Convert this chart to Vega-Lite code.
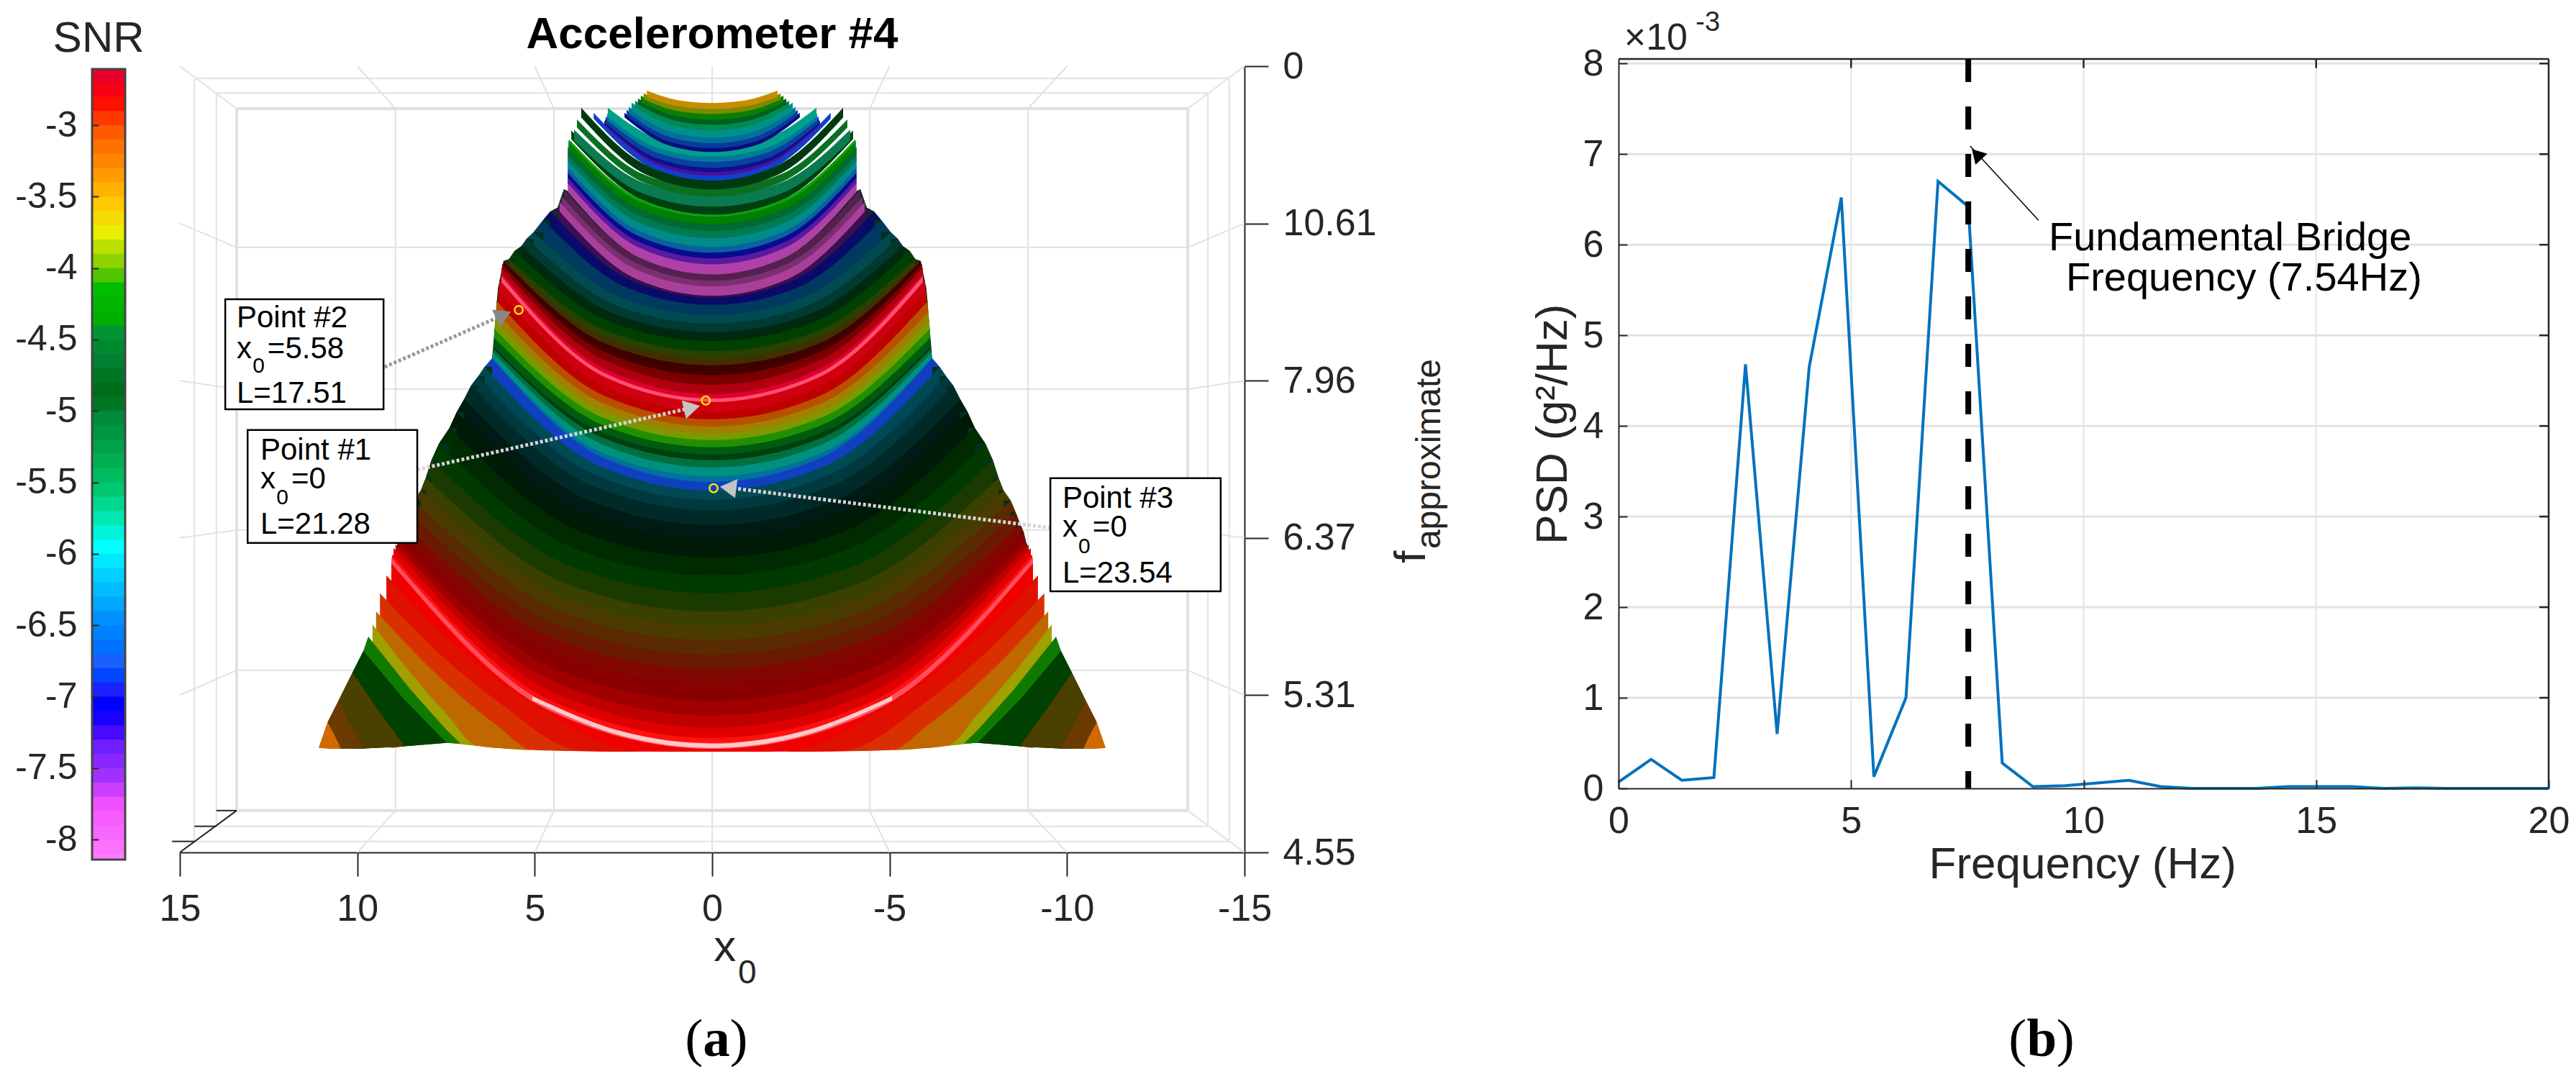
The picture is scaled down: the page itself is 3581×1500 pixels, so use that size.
{"$schema":"https://vega.github.io/schema/vega-lite/v6.json","background":"white","padding":{"left":20,"top":12,"right":0,"bottom":0},"bounds":"flush","spacing":76,"config":{"view":{"stroke":null},"text":{"font":"Liberation Sans"},"axis":{"labelFont":"Liberation Sans","titleFont":"Liberation Sans"}},"hconcat":[
{"width":46,"height":1113,"encoding":{"x":{"field":"x","type":"quantitative","scale":{"domain":[0,1]},"axis":null},"y":{"field":"s","type":"quantitative","scale":{"domain":[-2.607,-8.14],"range":[14,1113]},"axis":{"title":null,"values":[-3,-3.5,-4,-4.5,-5,-5.5,-6,-6.5,-7,-7.5,-8],"labelExpr":"''+datum.value","labelFontSize":50,"labelColor":"#262626","tickSize":-9,"tickColor":"#262626","tickWidth":2,"labelPadding":30,"domain":false,"grid":false,"zindex":1}}},"layer":[
{"data":{"values":[{"x":0,"x2":1,"s":-2.607,"e":-2.705},{"x":0,"x2":1,"s":-2.7,"e":-2.805},{"x":0,"x2":1,"s":-2.8,"e":-2.905},{"x":0,"x2":1,"s":-2.9,"e":-3.005},{"x":0,"x2":1,"s":-3,"e":-3.105},{"x":0,"x2":1,"s":-3.1,"e":-3.205},{"x":0,"x2":1,"s":-3.2,"e":-3.305},{"x":0,"x2":1,"s":-3.3,"e":-3.405},{"x":0,"x2":1,"s":-3.4,"e":-3.505},{"x":0,"x2":1,"s":-3.5,"e":-3.605},{"x":0,"x2":1,"s":-3.6,"e":-3.705},{"x":0,"x2":1,"s":-3.7,"e":-3.805},{"x":0,"x2":1,"s":-3.8,"e":-3.905},{"x":0,"x2":1,"s":-3.9,"e":-4.005},{"x":0,"x2":1,"s":-4,"e":-4.105},{"x":0,"x2":1,"s":-4.1,"e":-4.205},{"x":0,"x2":1,"s":-4.2,"e":-4.305},{"x":0,"x2":1,"s":-4.3,"e":-4.405},{"x":0,"x2":1,"s":-4.4,"e":-4.505},{"x":0,"x2":1,"s":-4.5,"e":-4.605},{"x":0,"x2":1,"s":-4.6,"e":-4.705},{"x":0,"x2":1,"s":-4.7,"e":-4.805},{"x":0,"x2":1,"s":-4.8,"e":-4.905},{"x":0,"x2":1,"s":-4.9,"e":-5.005},{"x":0,"x2":1,"s":-5,"e":-5.105},{"x":0,"x2":1,"s":-5.1,"e":-5.205},{"x":0,"x2":1,"s":-5.2,"e":-5.305},{"x":0,"x2":1,"s":-5.3,"e":-5.405},{"x":0,"x2":1,"s":-5.4,"e":-5.505},{"x":0,"x2":1,"s":-5.5,"e":-5.605},{"x":0,"x2":1,"s":-5.6,"e":-5.705},{"x":0,"x2":1,"s":-5.7,"e":-5.805},{"x":0,"x2":1,"s":-5.8,"e":-5.905},{"x":0,"x2":1,"s":-5.9,"e":-6.005},{"x":0,"x2":1,"s":-6,"e":-6.105},{"x":0,"x2":1,"s":-6.1,"e":-6.205},{"x":0,"x2":1,"s":-6.2,"e":-6.305},{"x":0,"x2":1,"s":-6.3,"e":-6.405},{"x":0,"x2":1,"s":-6.4,"e":-6.505},{"x":0,"x2":1,"s":-6.5,"e":-6.605},{"x":0,"x2":1,"s":-6.6,"e":-6.705},{"x":0,"x2":1,"s":-6.7,"e":-6.805},{"x":0,"x2":1,"s":-6.8,"e":-6.905},{"x":0,"x2":1,"s":-6.9,"e":-7.005},{"x":0,"x2":1,"s":-7,"e":-7.105},{"x":0,"x2":1,"s":-7.1,"e":-7.205},{"x":0,"x2":1,"s":-7.2,"e":-7.305},{"x":0,"x2":1,"s":-7.3,"e":-7.405},{"x":0,"x2":1,"s":-7.4,"e":-7.505},{"x":0,"x2":1,"s":-7.5,"e":-7.605},{"x":0,"x2":1,"s":-7.6,"e":-7.705},{"x":0,"x2":1,"s":-7.7,"e":-7.805},{"x":0,"x2":1,"s":-7.8,"e":-7.905},{"x":0,"x2":1,"s":-7.9,"e":-8.005},{"x":0,"x2":1,"s":-8,"e":-8.105},{"x":0,"x2":1,"s":-8.1,"e":-8.14}]},"mark":"rect","encoding":{"x2":{"field":"x2"},"y2":{"field":"e"},"color":{"field":"s","type":"quantitative","legend":null,"scale":{"domain":[-8.14,-7.7,-7.5,-7.3,-7.15,-7,-6.9,-6.7,-6.4,-6.1,-5.9,-5.7,-5.5,-5.3,-5,-4.83,-4.6,-4.35,-4.3,-4.05,-3.98,-3.85,-3.7,-3.5,-3.25,-3,-2.85,-2.75,-2.607],"range":["#ff80ff","#f050ff","#a030ff","#7020ff","#2000ff","#0000ff","#1a20ff","#1a60ff","#0090ff","#00d0ff","#00ffff","#00e8b0","#00c870","#00b050","#008a3a","#006a14","#008030","#009a30","#00b000","#00c000","#60c800","#a8d800","#e8f000","#ffc800","#ff9000","#ff5a00","#ff1a00","#ff0000","#e8002a"]}}}},
{"data":{"values":[{"x":0,"x2":1,"s":-2.607,"e":-8.14}]},"mark":{"type":"rect","fill":null,"stroke":"#444444","strokeWidth":3},"encoding":{"x2":{"field":"x2"},"y2":{"field":"e"}}},
{"data":{"values":[{"x":0.2,"s":-2.486,"t":"SNR"}]},"mark":{"type":"text","fontSize":60,"align":"center","baseline":"alphabetic","color":"#262626"},"encoding":{"text":{"field":"t"}}}
]},
{"width":1480,"height":1113,"encoding":{"x":{"field":"x","type":"quantitative","scale":{"domain":[15,-15],"nice":false,"zero":false},"axis":{"title":null,"orient":"bottom","offset":-10,"values":[15,10,5,0,-5,-10,-15],"labelExpr":"''+datum.value","labelFontSize":52,"labelColor":"#262626","tickSize":33,"tickColor":"#262626","tickWidth":2,"domainColor":"#262626","domainWidth":2,"labelPadding":20,"grid":false,"labelFlush":false}},"y":{"field":"y","type":"quantitative","scale":{"domain":[10,35],"range":[10,1103],"nice":false,"zero":false},"axis":{"title":null,"orient":"right","values":[10,15,20,25,30,35],"labelExpr":"datum.value==10?'0':datum.value==15?'10.61':datum.value==20?'7.96':datum.value==25?'6.37':datum.value==30?'5.31':'4.55'","labelFontSize":52,"labelColor":"#262626","tickSize":33,"tickColor":"#262626","tickWidth":2,"domainColor":"#262626","domainWidth":2,"labelPadding":20,"grid":false}}},"layer":[
{"data":{"values":[{"x":14.59,"y":10.39,"x2":-14.57,"y2":10.39},{"x":14.59,"y":34.65,"x2":-14.57,"y2":34.65},{"x":14.59,"y":10.39,"x2":14.59,"y2":34.65},{"x":-14.57,"y":10.39,"x2":-14.57,"y2":34.65},{"x":13.97,"y":10.85,"x2":-13.97,"y2":10.85},{"x":13.97,"y":34.17,"x2":-13.97,"y2":34.17},{"x":13.97,"y":10.85,"x2":13.97,"y2":34.17},{"x":-13.97,"y":10.85,"x2":-13.97,"y2":34.17},{"x":8.92,"y":11.35,"x2":8.92,"y2":33.67},{"x":4.46,"y":11.35,"x2":4.46,"y2":33.67},{"x":0,"y":11.35,"x2":0,"y2":33.67},{"x":-4.44,"y":11.35,"x2":-4.44,"y2":33.67},{"x":-8.9,"y":11.35,"x2":-8.9,"y2":33.67},{"x":13.4,"y":15.76,"x2":-13.4,"y2":15.76},{"x":13.4,"y":20.27,"x2":-13.4,"y2":20.27},{"x":13.4,"y":24.75,"x2":-13.4,"y2":24.75},{"x":13.4,"y":29.21,"x2":-13.4,"y2":29.21},{"x":15,"y":10,"x2":13.4,"y2":11.35},{"x":-15,"y":10,"x2":-13.4,"y2":11.35},{"x":-15,"y":35,"x2":-13.4,"y2":33.67},{"x":10,"y":10,"x2":8.92,"y2":11.35},{"x":5,"y":10,"x2":4.46,"y2":11.35},{"x":0,"y":10,"x2":0,"y2":11.35},{"x":-5,"y":10,"x2":-4.44,"y2":11.35},{"x":-10,"y":10,"x2":-8.9,"y2":11.35},{"x":10,"y":35,"x2":8.92,"y2":33.67},{"x":5,"y":35,"x2":4.46,"y2":33.67},{"x":0,"y":35,"x2":0,"y2":33.67},{"x":-5,"y":35,"x2":-4.44,"y2":33.67},{"x":-10,"y":35,"x2":-8.9,"y2":33.67},{"x":15,"y":15,"x2":13.4,"y2":15.76},{"x":15,"y":20,"x2":13.4,"y2":20.27},{"x":15,"y":25,"x2":13.4,"y2":24.75},{"x":15,"y":30,"x2":13.4,"y2":29.21},{"x":-15,"y":15,"x2":-13.4,"y2":15.76},{"x":-15,"y":20,"x2":-13.4,"y2":20.27},{"x":-15,"y":25,"x2":-13.4,"y2":24.75},{"x":-15,"y":30,"x2":-13.4,"y2":29.21}]},"mark":{"type":"rule","stroke":"#e2e2e2","strokeWidth":2},"encoding":{"x2":{"field":"x2"},"y2":{"field":"y2"}}},
{"data":{"values":[{"x":13.4,"y":11.35,"x2":-13.4,"y2":11.35},{"x":13.4,"y":33.67,"x2":-13.4,"y2":33.67},{"x":13.4,"y":11.35,"x2":13.4,"y2":33.67},{"x":-13.4,"y":11.35,"x2":-13.4,"y2":33.67}]},"mark":{"type":"rule","stroke":"#e0e0e0","strokeWidth":4},"encoding":{"x2":{"field":"x2"},"y2":{"field":"y2"}}},
{"data":{"values":[{"x":15,"y":35,"x2":13.4,"y2":33.67},{"x":15.22,"y":34.65,"x2":14.59,"y2":34.65},{"x":14.59,"y":34.17,"x2":13.97,"y2":34.17},{"x":13.97,"y":33.67,"x2":13.4,"y2":33.67}]},"mark":{"type":"rule","stroke":"#262626","strokeWidth":2},"encoding":{"x2":{"field":"x2"},"y2":{"field":"y2"}}},
{"data":{"values":[{"x":-9.04,"y":25.71,"z":31},{"x":-8.84,"y":25.11,"z":31},{"x":-8.78,"y":24.82,"z":31},{"x":-8.68,"y":24.55,"z":31},{"x":-8.55,"y":24.18,"z":31},{"x":-8.41,"y":23.81,"z":31},{"x":-8.21,"y":23.49,"z":31},{"x":-8.07,"y":23.09,"z":31},{"x":-7.91,"y":22.53,"z":31},{"x":-7.7,"y":22,"z":31},{"x":-7.4,"y":21.5,"z":31},{"x":-7.2,"y":21,"z":31},{"x":-6.99,"y":20.59,"z":31},{"x":-6.79,"y":20.15,"z":31},{"x":-6.59,"y":19.86,"z":31},{"x":-6.41,"y":19.56,"z":31},{"x":-6.2,"y":19.29,"z":31},{"x":-6.04,"y":17.09,"z":31},{"x":-5.88,"y":16.19,"z":31},{"x":-5.72,"y":16.13,"z":31},{"x":-5.57,"y":15.88,"z":31},{"x":-5.37,"y":15.72,"z":31},{"x":-5.23,"y":15.49,"z":31},{"x":-5.03,"y":15.28,"z":31},{"x":-4.76,"y":14.89,"z":31},{"x":-4.56,"y":14.62,"z":31},{"x":-4.36,"y":14.5,"z":31},{"x":-4.18,"y":13.91,"z":31},{"x":0,"y":16,"z":31},{"x":4.18,"y":13.91,"z":31},{"x":4.36,"y":14.5,"z":31},{"x":4.56,"y":14.62,"z":31},{"x":4.76,"y":14.89,"z":31},{"x":5.03,"y":15.28,"z":31},{"x":5.23,"y":15.49,"z":31},{"x":5.37,"y":15.72,"z":31},{"x":5.57,"y":15.88,"z":31},{"x":5.72,"y":16.13,"z":31},{"x":5.88,"y":16.19,"z":31},{"x":6.04,"y":17.09,"z":31},{"x":6.2,"y":19.29,"z":31},{"x":6.41,"y":19.56,"z":31},{"x":6.59,"y":19.86,"z":31},{"x":6.79,"y":20.15,"z":31},{"x":6.99,"y":20.59,"z":31},{"x":7.2,"y":21,"z":31},{"x":7.4,"y":21.5,"z":31},{"x":7.7,"y":22,"z":31},{"x":7.91,"y":22.53,"z":31},{"x":8.07,"y":23.09,"z":31},{"x":8.21,"y":23.49,"z":31},{"x":8.41,"y":23.81,"z":31},{"x":8.55,"y":24.18,"z":31},{"x":8.68,"y":24.55,"z":31},{"x":8.78,"y":24.82,"z":31},{"x":8.84,"y":25.11,"z":31},{"x":9.04,"y":25.71,"z":31}]},"mark":{"type":"area","interpolate":"linear","orient":"vertical","color":"#03301c"},"encoding":{"y2":{"field":"z"}}},
{"data":{"values":[
{"b":56,"s":"L","x":-4.56,"y":14.62,"z":14.62},{"b":56,"s":"L","x":-4.36,"y":14.5,"z":14.62},{"b":56,"s":"R","x":4.36,"y":14.5,"z":14.62},{"b":56,"s":"R","x":4.56,"y":14.62,"z":14.62},
{"b":55,"s":"L","x":-4.76,"y":14.89,"z":14.89},{"b":55,"s":"L","x":-4.56,"y":14.62,"z":14.89},{"b":55,"s":"R","x":4.56,"y":14.62,"z":14.89},{"b":55,"s":"R","x":4.76,"y":14.89,"z":14.89},
{"b":54,"s":"L","x":-5.03,"y":15.28,"z":15.28},{"b":54,"s":"L","x":-4.76,"y":14.89,"z":15.28},{"b":54,"s":"R","x":4.76,"y":14.89,"z":15.28},{"b":54,"s":"R","x":5.03,"y":15.28,"z":15.28},
{"b":53,"s":"L","x":-5.23,"y":15.49,"z":15.49},{"b":53,"s":"L","x":-5.03,"y":15.28,"z":15.49},{"b":53,"s":"R","x":5.03,"y":15.28,"z":15.49},{"b":53,"s":"R","x":5.23,"y":15.49,"z":15.49},
{"b":52,"s":"L","x":-5.37,"y":15.72,"z":15.72},{"b":52,"s":"L","x":-5.23,"y":15.49,"z":15.72},{"b":52,"s":"R","x":5.23,"y":15.49,"z":15.72},{"b":52,"s":"R","x":5.37,"y":15.72,"z":15.72},
{"b":51,"s":"L","x":-5.57,"y":15.88,"z":15.88},{"b":51,"s":"L","x":-5.37,"y":15.72,"z":15.88},{"b":51,"s":"R","x":5.37,"y":15.72,"z":15.88},{"b":51,"s":"R","x":5.57,"y":15.88,"z":15.88},
{"b":50,"s":"L","x":-5.72,"y":16.13,"z":16.13},{"b":50,"s":"L","x":-5.57,"y":15.88,"z":16.13},{"b":50,"s":"R","x":5.57,"y":15.88,"z":16.13},{"b":50,"s":"R","x":5.72,"y":16.13,"z":16.13},
{"b":49,"s":"L","x":-5.82,"y":16.2,"z":16.2},{"b":49,"s":"L","x":-5.72,"y":16.13,"z":16.2},{"b":49,"s":"R","x":5.72,"y":16.13,"z":16.2},{"b":49,"s":"R","x":5.82,"y":16.2,"z":16.2},
{"b":31,"s":"L","x":-6.41,"y":19.56,"z":19.56},{"b":31,"s":"L","x":-6.2,"y":19.29,"z":19.56},{"b":31,"s":"R","x":6.2,"y":19.29,"z":19.56},{"b":31,"s":"R","x":6.41,"y":19.56,"z":19.56},
{"b":30,"s":"L","x":-6.59,"y":19.86,"z":19.86},{"b":30,"s":"L","x":-6.41,"y":19.56,"z":19.86},{"b":30,"s":"R","x":6.41,"y":19.56,"z":19.86},{"b":30,"s":"R","x":6.59,"y":19.86,"z":19.86},
{"b":29,"s":"L","x":-6.79,"y":20.15,"z":20.15},{"b":29,"s":"L","x":-6.59,"y":19.86,"z":20.15},{"b":29,"s":"R","x":6.59,"y":19.86,"z":20.15},{"b":29,"s":"R","x":6.79,"y":20.15,"z":20.15},
{"b":28,"s":"L","x":-6.99,"y":20.59,"z":20.59},{"b":28,"s":"L","x":-6.79,"y":20.15,"z":20.59},{"b":28,"s":"R","x":6.79,"y":20.15,"z":20.59},{"b":28,"s":"R","x":6.99,"y":20.59,"z":20.59},
{"b":27,"s":"L","x":-7.2,"y":21,"z":21},{"b":27,"s":"L","x":-6.99,"y":20.59,"z":21},{"b":27,"s":"R","x":6.99,"y":20.59,"z":21},{"b":27,"s":"R","x":7.2,"y":21,"z":21},
{"b":26,"s":"L","x":-7.4,"y":21.5,"z":21.5},{"b":26,"s":"L","x":-7.2,"y":21,"z":21.5},{"b":26,"s":"R","x":7.2,"y":21,"z":21.5},{"b":26,"s":"R","x":7.4,"y":21.5,"z":21.5},
{"b":25,"s":"L","x":-7.7,"y":22,"z":22},{"b":25,"s":"L","x":-7.4,"y":21.5,"z":22},{"b":25,"s":"R","x":7.4,"y":21.5,"z":22},{"b":25,"s":"R","x":7.7,"y":22,"z":22},
{"b":24,"s":"L","x":-7.91,"y":22.53,"z":22.53},{"b":24,"s":"L","x":-7.7,"y":22,"z":22.53},{"b":24,"s":"R","x":7.7,"y":22,"z":22.53},{"b":24,"s":"R","x":7.91,"y":22.53,"z":22.53},
{"b":23,"s":"L","x":-8.07,"y":23.09,"z":23.09},{"b":23,"s":"L","x":-7.91,"y":22.53,"z":23.09},{"b":23,"s":"R","x":7.91,"y":22.53,"z":23.09},{"b":23,"s":"R","x":8.07,"y":23.09,"z":23.09},
{"b":22,"s":"L","x":-8.21,"y":23.49,"z":23.49},{"b":22,"s":"L","x":-8.07,"y":23.09,"z":23.49},{"b":22,"s":"R","x":8.07,"y":23.09,"z":23.49},{"b":22,"s":"R","x":8.21,"y":23.49,"z":23.49},
{"b":21,"s":"L","x":-8.41,"y":23.81,"z":23.81},{"b":21,"s":"L","x":-8.21,"y":23.49,"z":23.81},{"b":21,"s":"R","x":8.21,"y":23.49,"z":23.81},{"b":21,"s":"R","x":8.41,"y":23.81,"z":23.81},
{"b":20,"s":"L","x":-8.55,"y":24.18,"z":24.18},{"b":20,"s":"L","x":-8.41,"y":23.81,"z":24.18},{"b":20,"s":"R","x":8.41,"y":23.81,"z":24.18},{"b":20,"s":"R","x":8.55,"y":24.18,"z":24.18},
{"b":19,"s":"L","x":-8.68,"y":24.55,"z":24.55},{"b":19,"s":"L","x":-8.55,"y":24.18,"z":24.55},{"b":19,"s":"R","x":8.55,"y":24.18,"z":24.55},{"b":19,"s":"R","x":8.68,"y":24.55,"z":24.55},
{"b":18,"s":"L","x":-8.78,"y":24.82,"z":24.82},{"b":18,"s":"L","x":-8.68,"y":24.55,"z":24.82},{"b":18,"s":"R","x":8.68,"y":24.55,"z":24.82},{"b":18,"s":"R","x":8.78,"y":24.82,"z":24.82},
{"b":17,"s":"L","x":-8.84,"y":25.11,"z":25.11},{"b":17,"s":"L","x":-8.78,"y":24.82,"z":25.11},{"b":17,"s":"R","x":8.78,"y":24.82,"z":25.11},{"b":17,"s":"R","x":8.84,"y":25.11,"z":25.11}
]},"mark":{"type":"area","interpolate":"linear","orient":"vertical"},"encoding":{"y2":{"field":"z"},"detail":{"field":"s"},"color":{"field":"b","type":"ordinal","legend":null,"scale":{"range":["#f00000","#e01000","#d83000","#c06800","#a0a000","#107a00","#004000","#4a4000","#6a3a00","#d06a00","#ff5060","#ffc8c8","#ff1010","#e00000","#c00000","#a00000","#8a0000","#800800","#6a1a00","#5a2a00","#4a3c00","#3a4000","#1a3a00","#003a00","#002a00","#001a08","#001a14","#002a28","#003a40","#004a55","#1040c0","#0070a0","#009080","#007040","#004010","#005a10","#209000","#7a9a00","#a08000","#b85000","#c00000","#d00010","#ff5070","#e00030","#b00010","#7a0000","#400000","#403000","#2a4000","#004000","#002a10","#003a30","#004a50","#003a60","#0a0a6a","#3a1050","#aa3f9a","#7a2f72","#55204f","#b040a8","#5a1aa0","#0a0a90","#0a60a0","#008a8a","#007a50","#006a30","#008000","#10a010","#004010","#0a7a50","#0a7020","#003a10","#1040c8","#4a10a0","#10108a","#0a40a0","#007a9a","#00a08a","#0a0a80","#0a3a9a","#00709a","#00908a","#008a50","#006020","#0a8000","#7a8a00","#c88c00"]}}}},
{"data":{"values":[
{"b":56,"x":-4.36,"y":14.5,"z":14.69},{"b":56,"x":-2.18,"y":16.66,"z":16.85},{"b":56,"x":0,"y":17.2,"z":17.39},{"b":56,"x":2.18,"y":16.66,"z":16.85},{"b":56,"x":4.36,"y":14.5,"z":14.69},
{"b":55,"x":-4.56,"y":14.62,"z":14.88},{"b":55,"x":-2.28,"y":16.81,"z":17.07},{"b":55,"x":0,"y":17.36,"z":17.62},{"b":55,"x":2.28,"y":16.81,"z":17.07},{"b":55,"x":4.56,"y":14.62,"z":14.88},
{"b":54,"x":-4.76,"y":14.89,"z":15.24},{"b":54,"x":-2.38,"y":17.05,"z":17.4},{"b":54,"x":0,"y":17.59,"z":17.94},{"b":54,"x":2.38,"y":17.05,"z":17.4},{"b":54,"x":4.76,"y":14.89,"z":15.24},
{"b":53,"x":-5.03,"y":15.28,"z":15.59},{"b":53,"x":-2.51,"y":17.38,"z":17.69},{"b":53,"x":0,"y":17.91,"z":18.22},{"b":53,"x":2.51,"y":17.38,"z":17.69},{"b":53,"x":5.03,"y":15.28,"z":15.59},
{"b":52,"x":-5.23,"y":15.49,"z":15.79},{"b":52,"x":-2.61,"y":17.65,"z":17.95},{"b":52,"x":0,"y":18.19,"z":18.49},{"b":52,"x":2.61,"y":17.65,"z":17.95},{"b":52,"x":5.23,"y":15.49,"z":15.79},
{"b":51,"x":-5.37,"y":15.72,"z":16.03},{"b":51,"x":-2.69,"y":17.91,"z":18.22},{"b":51,"x":0,"y":18.46,"z":18.77},{"b":51,"x":2.69,"y":17.91,"z":18.22},{"b":51,"x":5.37,"y":15.72,"z":16.03},
{"b":50,"x":-5.57,"y":15.88,"z":16.23},{"b":50,"x":-2.79,"y":18.17,"z":18.52},{"b":50,"x":0,"y":18.74,"z":19.09},{"b":50,"x":2.79,"y":18.17,"z":18.52},{"b":50,"x":5.57,"y":15.88,"z":16.23},
{"b":49,"x":-5.72,"y":16.13,"z":16.39},{"b":49,"x":-2.86,"y":18.47,"z":18.73},{"b":49,"x":0,"y":19.06,"z":19.32},{"b":49,"x":2.86,"y":18.47,"z":18.73},{"b":49,"x":5.72,"y":16.13,"z":16.39},
{"b":48,"x":-5.82,"y":16.2,"z":16.45},{"b":48,"x":-2.91,"y":18.67,"z":18.92},{"b":48,"x":0,"y":19.29,"z":19.54},{"b":48,"x":2.91,"y":18.67,"z":18.92},{"b":48,"x":5.82,"y":16.2,"z":16.45},
{"b":47,"x":-5.88,"y":16.19,"z":16.54},{"b":47,"x":-2.94,"y":18.85,"z":19.2},{"b":47,"x":0,"y":19.51,"z":19.86},{"b":47,"x":2.94,"y":18.85,"z":19.2},{"b":47,"x":5.88,"y":16.19,"z":16.54},
{"b":46,"x":-5.92,"y":16.29,"z":16.62},{"b":46,"x":-2.96,"y":19.12,"z":19.45},{"b":46,"x":0,"y":19.83,"z":20.16},{"b":46,"x":2.96,"y":19.12,"z":19.45},{"b":46,"x":5.92,"y":16.29,"z":16.62},
{"b":45,"x":-5.94,"y":16.4,"z":16.73},{"b":45,"x":-2.97,"y":19.38,"z":19.71},{"b":45,"x":0,"y":20.13,"z":20.46},{"b":45,"x":2.97,"y":19.38,"z":19.71},{"b":45,"x":5.94,"y":16.4,"z":16.73},
{"b":44,"x":-5.94,"y":16.59,"z":16.76},{"b":44,"x":-2.97,"y":19.66,"z":19.83},{"b":44,"x":0,"y":20.43,"z":20.6},{"b":44,"x":2.97,"y":19.66,"z":19.83},{"b":44,"x":5.94,"y":16.59,"z":16.76},
{"b":43,"x":-5.94,"y":16.68,"z":16.82},{"b":43,"x":-2.97,"y":19.79,"z":19.93},{"b":43,"x":0,"y":20.57,"z":20.71},{"b":43,"x":2.97,"y":19.79,"z":19.93},{"b":43,"x":5.94,"y":16.68,"z":16.82},
{"b":42,"x":-6,"y":16.79,"z":17.12},{"b":42,"x":-3,"y":19.9,"z":20.23},{"b":42,"x":0,"y":20.68,"z":21.01},{"b":42,"x":3,"y":19.9,"z":20.23},{"b":42,"x":6,"y":16.79,"z":17.12},
{"b":41,"x":-6.04,"y":17.09,"z":17.37},{"b":41,"x":-3.02,"y":20.2,"z":20.48},{"b":41,"x":0,"y":20.98,"z":21.26},{"b":41,"x":3.02,"y":20.2,"z":20.48},{"b":41,"x":6.04,"y":17.09,"z":17.37},
{"b":40,"x":-6.08,"y":17.46,"z":17.72},{"b":40,"x":-3.04,"y":20.48,"z":20.74},{"b":40,"x":0,"y":21.23,"z":21.49},{"b":40,"x":3.04,"y":20.48,"z":20.74},{"b":40,"x":6.08,"y":17.46,"z":17.72},
{"b":39,"x":-6.1,"y":17.8,"z":18.06},{"b":39,"x":-3.05,"y":20.73,"z":20.99},{"b":39,"x":0,"y":21.46,"z":21.72},{"b":39,"x":3.05,"y":20.73,"z":20.99},{"b":39,"x":6.1,"y":17.8,"z":18.06},
{"b":38,"x":-6.12,"y":18.08,"z":18.31},{"b":38,"x":-3.06,"y":20.97,"z":21.2},{"b":38,"x":0,"y":21.69,"z":21.92},{"b":38,"x":3.06,"y":20.97,"z":21.2},{"b":38,"x":6.12,"y":18.08,"z":18.31},
{"b":37,"x":-6.14,"y":18.35,"z":18.61},{"b":37,"x":-3.07,"y":21.18,"z":21.44},{"b":37,"x":0,"y":21.89,"z":22.15},{"b":37,"x":3.07,"y":21.18,"z":21.44},{"b":37,"x":6.14,"y":18.35,"z":18.61},
{"b":36,"x":-6.14,"y":18.64,"z":18.9},{"b":36,"x":-3.07,"y":21.42,"z":21.68},{"b":36,"x":0,"y":22.12,"z":22.38},{"b":36,"x":3.07,"y":21.42,"z":21.68},{"b":36,"x":6.14,"y":18.64,"z":18.9},
{"b":35,"x":-6.16,"y":18.92,"z":19.13},{"b":35,"x":-3.08,"y":21.66,"z":21.87},{"b":35,"x":0,"y":22.35,"z":22.56},{"b":35,"x":3.08,"y":21.66,"z":21.87},{"b":35,"x":6.16,"y":18.92,"z":19.13},
{"b":34,"x":-6.16,"y":18.99,"z":19.25},{"b":34,"x":-3.08,"y":21.82,"z":22.08},{"b":34,"x":0,"y":22.53,"z":22.79},{"b":34,"x":3.08,"y":21.82,"z":22.08},{"b":34,"x":6.16,"y":18.99,"z":19.25},
{"b":33,"x":-6.18,"y":19.1,"z":19.41},{"b":33,"x":-3.09,"y":22.03,"z":22.34},{"b":33,"x":0,"y":22.76,"z":23.07},{"b":33,"x":3.09,"y":22.03,"z":22.34},{"b":33,"x":6.18,"y":19.1,"z":19.41},
{"b":32,"x":-6.2,"y":19.27,"z":19.48},{"b":32,"x":-3.1,"y":22.29,"z":22.5},{"b":32,"x":0,"y":23.04,"z":23.25},{"b":32,"x":3.1,"y":22.29,"z":22.5},{"b":32,"x":6.2,"y":19.27,"z":19.48},
{"b":31,"x":-6.2,"y":19.29,"z":19.59},{"b":31,"x":-3.1,"y":22.43,"z":22.73},{"b":31,"x":0,"y":23.22,"z":23.52},{"b":31,"x":3.1,"y":22.43,"z":22.73},{"b":31,"x":6.2,"y":19.29,"z":19.59},
{"b":30,"x":-6.41,"y":19.56,"z":19.89},{"b":30,"x":-3.2,"y":22.7,"z":23.03},{"b":30,"x":0,"y":23.49,"z":23.82},{"b":30,"x":3.2,"y":22.7,"z":23.03},{"b":30,"x":6.41,"y":19.56,"z":19.89},
{"b":29,"x":-6.59,"y":19.86,"z":20.23},{"b":29,"x":-3.29,"y":23,"z":23.37},{"b":29,"x":0,"y":23.79,"z":24.16},{"b":29,"x":3.29,"y":23,"z":23.37},{"b":29,"x":6.59,"y":19.86,"z":20.23},
{"b":28,"x":-6.79,"y":20.15,"z":20.64},{"b":28,"x":-3.4,"y":23.33,"z":23.82},{"b":28,"x":0,"y":24.13,"z":24.62},{"b":28,"x":3.4,"y":23.33,"z":23.82},{"b":28,"x":6.79,"y":20.15,"z":20.64},
{"b":27,"x":-6.99,"y":20.59,"z":21.08},{"b":27,"x":-3.5,"y":23.79,"z":24.28},{"b":27,"x":0,"y":24.59,"z":25.08},{"b":27,"x":3.5,"y":23.79,"z":24.28},{"b":27,"x":6.99,"y":20.59,"z":21.08},
{"b":26,"x":-7.2,"y":21,"z":21.6},{"b":26,"x":-3.6,"y":24.24,"z":24.84},{"b":26,"x":0,"y":25.05,"z":25.65},{"b":26,"x":3.6,"y":24.24,"z":24.84},{"b":26,"x":7.2,"y":21,"z":21.6},
{"b":25,"x":-7.4,"y":21.5,"z":22.1},{"b":25,"x":-3.7,"y":24.8,"z":25.4},{"b":25,"x":0,"y":25.62,"z":26.22},{"b":25,"x":3.7,"y":24.8,"z":25.4},{"b":25,"x":7.4,"y":21.5,"z":22.1},
{"b":24,"x":-7.7,"y":22,"z":22.6},{"b":24,"x":-3.85,"y":25.35,"z":25.95},{"b":24,"x":0,"y":26.19,"z":26.79},{"b":24,"x":3.85,"y":25.35,"z":25.95},{"b":24,"x":7.7,"y":22,"z":22.6},
{"b":23,"x":-7.91,"y":22.53,"z":23.14},{"b":23,"x":-3.95,"y":25.91,"z":26.52},{"b":23,"x":0,"y":26.76,"z":27.37},{"b":23,"x":3.95,"y":25.91,"z":26.52},{"b":23,"x":7.91,"y":22.53,"z":23.14},
{"b":22,"x":-8.07,"y":23.09,"z":23.57},{"b":22,"x":-4.03,"y":26.49,"z":26.97},{"b":22,"x":0,"y":27.34,"z":27.82},{"b":22,"x":4.03,"y":26.49,"z":26.97},{"b":22,"x":8.07,"y":23.09,"z":23.57},
{"b":21,"x":-8.21,"y":23.49,"z":23.98},{"b":21,"x":-4.1,"y":26.93,"z":27.42},{"b":21,"x":0,"y":27.79,"z":28.28},{"b":21,"x":4.1,"y":26.93,"z":27.42},{"b":21,"x":8.21,"y":23.49,"z":23.98},
{"b":20,"x":-8.41,"y":23.81,"z":24.3},{"b":20,"x":-4.21,"y":27.36,"z":27.85},{"b":20,"x":0,"y":28.25,"z":28.74},{"b":20,"x":4.21,"y":27.36,"z":27.85},{"b":20,"x":8.41,"y":23.81,"z":24.3},
{"b":19,"x":-8.55,"y":24.18,"z":24.67},{"b":19,"x":-4.28,"y":27.8,"z":28.29},{"b":19,"x":0,"y":28.71,"z":29.2},{"b":19,"x":4.28,"y":27.8,"z":28.29},{"b":19,"x":8.55,"y":24.18,"z":24.67},
{"b":18,"x":-8.68,"y":24.55,"z":25.03},{"b":18,"x":-4.34,"y":28.25,"z":28.73},{"b":18,"x":0,"y":29.17,"z":29.65},{"b":18,"x":4.34,"y":28.25,"z":28.73},{"b":18,"x":8.68,"y":24.55,"z":25.03},
{"b":17,"x":-8.78,"y":24.82,"z":25.42},{"b":17,"x":-4.39,"y":28.66,"z":29.26},{"b":17,"x":0,"y":29.62,"z":30.22},{"b":17,"x":4.39,"y":28.66,"z":29.26},{"b":17,"x":8.78,"y":24.82,"z":25.42}
]},"mark":{"type":"area","interpolate":"monotone","orient":"vertical","y2Offset":45},"encoding":{"y2":{"field":"z"},"color":{"field":"b","type":"ordinal","legend":null}}},
{"data":{"values":[
{"b":16,"x":-8.84,"y":25.11,"z":25.6},{"b":16,"x":-4.42,"y":29.17,"z":29.66},{"b":16,"x":0,"y":30.19,"z":30.68},{"b":16,"x":4.42,"y":29.17,"z":29.66},{"b":16,"x":8.84,"y":25.11,"z":25.6},
{"b":15,"x":-8.92,"y":25.21,"z":25.63},{"b":15,"x":-4.46,"y":29.56,"z":29.98},{"b":15,"x":0,"y":30.65,"z":31.07},{"b":15,"x":4.46,"y":29.56,"z":29.98},{"b":15,"x":8.92,"y":25.21,"z":25.63},
{"b":14,"x":-8.98,"y":25.32,"z":25.67},{"b":14,"x":-4.49,"y":29.9,"z":30.25},{"b":14,"x":0,"y":31.04,"z":31.39},{"b":14,"x":4.49,"y":29.9,"z":30.25},{"b":14,"x":8.98,"y":25.32,"z":25.67},
{"b":13,"x":-9.02,"y":25.53,"z":25.72},{"b":13,"x":-4.51,"y":30.19,"z":30.38},{"b":13,"x":0,"y":31.36,"z":31.55},{"b":13,"x":4.51,"y":30.19,"z":30.38},{"b":13,"x":9.02,"y":25.53,"z":25.72}
]},"mark":{"type":"area","interpolate":"monotone","orient":"vertical","y2Offset":10},"encoding":{"y2":{"field":"z"},"color":{"field":"b","type":"ordinal","legend":null}}},
{"data":{"values":[
{"b":1,"x":-9.04,"y":25.71,"z":31.68},{"b":1,"x":-7.5,"y":27.84,"z":31.52},{"b":1,"x":-4.52,"y":30.51,"z":31.75},{"b":1,"x":0,"y":31.61,"z":31.8},{"b":1,"x":4.52,"y":30.51,"z":31.75},{"b":1,"x":7.5,"y":27.84,"z":31.52},{"b":1,"x":9.04,"y":25.71,"z":31.68},
{"b":2,"x":-9.18,"y":26.19,"z":31.66},{"b":2,"x":-7.5,"y":28.14,"z":31.52},{"b":2,"x":-4.86,"y":30.4,"z":31.75},{"b":2,"x":-1.93,"y":31.8,"z":31.8},{"b":2,"x":1.93,"y":31.8,"z":31.8},{"b":2,"x":4.86,"y":30.4,"z":31.75},{"b":2,"x":7.5,"y":28.14,"z":31.52},{"b":2,"x":9.18,"y":26.19,"z":31.66},
{"b":3,"x":-9.36,"y":26.76,"z":31.66},{"b":3,"x":-7.5,"y":28.87,"z":31.52},{"b":3,"x":-6.08,"y":30.17,"z":31.68},{"b":3,"x":-3.61,"y":31.77,"z":31.77},{"b":3,"x":3.61,"y":31.77,"z":31.77},{"b":3,"x":6.08,"y":30.17,"z":31.68},{"b":3,"x":7.5,"y":28.87,"z":31.52},{"b":3,"x":9.36,"y":26.76,"z":31.66},
{"b":4,"x":-9.47,"y":27.34,"z":31.66},{"b":4,"x":-7.5,"y":29.62,"z":31.52},{"b":4,"x":-6.08,"y":30.95,"z":31.68},{"b":4,"x":-5.03,"y":31.75,"z":31.75},{"b":4,"x":5.03,"y":31.75,"z":31.75},{"b":4,"x":6.08,"y":30.95,"z":31.68},{"b":4,"x":7.5,"y":29.62,"z":31.52},{"b":4,"x":9.47,"y":27.34,"z":31.66},
{"b":5,"x":-9.57,"y":27.75,"z":31.67},{"b":5,"x":-8.51,"y":29.28,"z":31.61},{"b":5,"x":-7.5,"y":30.58,"z":31.52},{"b":5,"x":-6.59,"y":31.61,"z":31.61},{"b":5,"x":6.59,"y":31.61,"z":31.61},{"b":5,"x":7.5,"y":30.58,"z":31.52},{"b":5,"x":8.51,"y":29.28,"z":31.61},{"b":5,"x":9.57,"y":27.75,"z":31.67}
]},"mark":{"type":"area","interpolate":"monotone","orient":"vertical"},"encoding":{"y2":{"field":"z"},"color":{"field":"b","type":"ordinal","legend":null}}},
{"data":{"values":[
{"b":6,"x":-9.83,"y":28.59,"z":31.7},{"b":6,"x":-9.69,"y":28.14,"z":31.68},{"b":6,"x":-8.51,"y":29.81,"z":31.61},{"b":6,"x":-7.5,"y":31.09,"z":31.52},{"b":6,"x":-7.09,"y":31.54,"z":31.54},{"b":6,"x":7.09,"y":31.54,"z":31.54},{"b":6,"x":7.5,"y":31.09,"z":31.52},{"b":6,"x":8.51,"y":29.81,"z":31.61},{"b":6,"x":9.69,"y":28.14,"z":31.68},{"b":6,"x":9.83,"y":28.59,"z":31.7},
{"b":7,"x":-10.14,"y":29.28,"z":31.7},{"b":7,"x":-9.83,"y":28.59,"z":31.7},{"b":7,"x":-8.72,"y":30.08,"z":31.63},{"b":7,"x":-7.48,"y":31.52,"z":31.52},{"b":7,"x":7.48,"y":31.52,"z":31.52},{"b":7,"x":8.72,"y":30.08,"z":31.63},{"b":7,"x":9.83,"y":28.59,"z":31.7},{"b":7,"x":10.14,"y":29.28,"z":31.7},
{"b":8,"x":-10.54,"y":30.19,"z":31.7},{"b":8,"x":-10.14,"y":29.28,"z":31.7},{"b":8,"x":-9.43,"y":30.45,"z":31.68},{"b":8,"x":-8.66,"y":31.63,"z":31.63},{"b":8,"x":8.66,"y":31.63,"z":31.63},{"b":8,"x":9.43,"y":30.45,"z":31.68},{"b":8,"x":10.14,"y":29.28,"z":31.7},{"b":8,"x":10.54,"y":30.19,"z":31.7},
{"b":9,"x":-10.84,"y":30.86,"z":31.7},{"b":9,"x":-10.54,"y":30.19,"z":31.7},{"b":9,"x":-10.18,"y":30.97,"z":31.7},{"b":9,"x":-9.81,"y":31.7,"z":31.7},{"b":9,"x":9.81,"y":31.7,"z":31.7},{"b":9,"x":10.18,"y":30.97,"z":31.7},{"b":9,"x":10.54,"y":30.19,"z":31.7},{"b":9,"x":10.84,"y":30.86,"z":31.7},
{"b":10,"x":-11.09,"y":31.68,"z":31.68},{"b":10,"x":-10.84,"y":30.86,"z":31.7},{"b":10,"x":-10.64,"y":31.27,"z":31.7},{"b":10,"x":-10.46,"y":31.7,"z":31.7},{"b":10,"x":10.46,"y":31.7,"z":31.7},{"b":10,"x":10.64,"y":31.27,"z":31.7},{"b":10,"x":10.84,"y":30.86,"z":31.7},{"b":10,"x":11.09,"y":31.68,"z":31.68}
]},"mark":{"type":"area","interpolate":"linear","orient":"vertical"},"encoding":{"y2":{"field":"z"},"color":{"field":"b","type":"ordinal","legend":null}}},
{"data":{"values":[
{"b":11,"x":-9.04,"y":25.62,"z":25.81},{"b":11,"x":-4.52,"y":30.34,"z":30.53},{"b":11,"x":0,"y":31.52,"z":31.71},{"b":11,"x":4.52,"y":30.34,"z":30.53},{"b":11,"x":9.04,"y":25.62,"z":25.81},
{"b":12,"x":-5.07,"y":30.03,"z":30.17},{"b":12,"x":-2.53,"y":31.16,"z":31.3},{"b":12,"x":0,"y":31.54,"z":31.68},{"b":12,"x":2.53,"y":31.16,"z":31.3},{"b":12,"x":5.07,"y":30.03,"z":30.17}
]},"mark":{"type":"area","interpolate":"monotone","orient":"vertical"},"encoding":{"y2":{"field":"z"},"color":{"field":"b","type":"ordinal","legend":null}}},
{"data":{"values":[
{"b":59,"x":-4.18,"y":13.91,"z":14.17},{"b":59,"x":-2.09,"y":16.05,"z":16.31},{"b":59,"x":0,"y":16.59,"z":16.85},{"b":59,"x":2.09,"y":16.05,"z":16.31},{"b":59,"x":4.18,"y":13.91,"z":14.17},
{"b":58,"x":-4.24,"y":14.14,"z":14.35},{"b":58,"x":-2.12,"y":16.28,"z":16.49},{"b":58,"x":0,"y":16.82,"z":17.03},{"b":58,"x":2.12,"y":16.28,"z":16.49},{"b":58,"x":4.24,"y":14.14,"z":14.35},
{"b":57,"x":-4.3,"y":14.32,"z":14.55},{"b":57,"x":-2.15,"y":16.46,"z":16.69},{"b":57,"x":0,"y":17,"z":17.23},{"b":57,"x":2.15,"y":16.46,"z":16.69},{"b":57,"x":4.3,"y":14.32,"z":14.55}
]},"mark":{"type":"area","interpolate":"monotone","orient":"vertical","y2Offset":3},"encoding":{"y2":{"field":"z"},"color":{"field":"b","type":"ordinal","legend":null}}},
{"data":{"values":[
{"b":60,"x":-4.07,"y":13.64,"z":13.99},{"b":60,"x":-2.04,"y":15.74,"z":16.09},{"b":60,"x":0,"y":16.27,"z":16.62},{"b":60,"x":2.04,"y":15.74,"z":16.09},{"b":60,"x":4.07,"y":13.64,"z":13.99},
{"b":61,"x":-4.07,"y":13.5,"z":13.72},{"b":61,"x":-2.04,"y":15.56,"z":15.78},{"b":61,"x":0,"y":16.08,"z":16.3},{"b":61,"x":2.04,"y":15.56,"z":15.78},{"b":61,"x":4.07,"y":13.5,"z":13.72},
{"b":62,"x":-4.07,"y":13.34,"z":13.55},{"b":62,"x":-2.04,"y":15.39,"z":15.6},{"b":62,"x":0,"y":15.9,"z":16.11},{"b":62,"x":2.04,"y":15.39,"z":15.6},{"b":62,"x":4.07,"y":13.34,"z":13.55},
{"b":63,"x":-4.07,"y":13.18,"z":13.39},{"b":63,"x":-2.04,"y":15.21,"z":15.42},{"b":63,"x":0,"y":15.72,"z":15.93},{"b":63,"x":2.04,"y":15.21,"z":15.42},{"b":63,"x":4.07,"y":13.18,"z":13.39},
{"b":64,"x":-4.07,"y":12.92,"z":13.23},{"b":64,"x":-2.04,"y":14.94,"z":15.25},{"b":64,"x":0,"y":15.44,"z":15.75},{"b":64,"x":2.04,"y":14.94,"z":15.25},{"b":64,"x":4.07,"y":12.92,"z":13.23},
{"b":65,"x":-4.07,"y":12.74,"z":13},{"b":65,"x":-2.04,"y":14.72,"z":14.98},{"b":65,"x":0,"y":15.21,"z":15.47},{"b":65,"x":2.04,"y":14.72,"z":14.98},{"b":65,"x":4.07,"y":12.74,"z":13},
{"b":66,"x":-4.07,"y":12.57,"z":12.82},{"b":66,"x":-2.04,"y":14.51,"z":14.76},{"b":66,"x":0,"y":14.99,"z":15.24},{"b":66,"x":2.04,"y":14.51,"z":14.76},{"b":66,"x":4.07,"y":12.57,"z":12.82},
{"b":67,"x":-4.05,"y":12.36,"z":12.62},{"b":67,"x":-2.03,"y":14.28,"z":14.54},{"b":67,"x":0,"y":14.76,"z":15.02},{"b":67,"x":2.03,"y":14.28,"z":14.54},{"b":67,"x":4.05,"y":12.36,"z":12.62},
{"b":68,"x":-4.03,"y":12.33,"z":12.43},{"b":68,"x":-2.02,"y":14.22,"z":14.32},{"b":68,"x":0,"y":14.69,"z":14.79},{"b":68,"x":2.02,"y":14.22,"z":14.32},{"b":68,"x":4.03,"y":12.33,"z":12.43},
{"b":69,"x":-3.97,"y":12.04,"z":12.32},{"b":69,"x":-1.99,"y":13.96,"z":14.24},{"b":69,"x":0,"y":14.44,"z":14.72},{"b":69,"x":1.99,"y":13.96,"z":14.24},{"b":69,"x":3.97,"y":12.04,"z":12.32},
{"b":70,"x":-3.89,"y":12.02,"z":12.37},{"b":70,"x":-1.95,"y":13.7,"z":14.05},{"b":70,"x":0,"y":14.12,"z":14.47},{"b":70,"x":1.95,"y":13.7,"z":14.05},{"b":70,"x":3.89,"y":12.02,"z":12.37},
{"b":71,"x":-3.81,"y":11.69,"z":11.95},{"b":71,"x":-1.91,"y":13.45,"z":13.71},{"b":71,"x":0,"y":13.89,"z":14.15},{"b":71,"x":1.91,"y":13.45,"z":13.71},{"b":71,"x":3.81,"y":11.69,"z":11.95},
{"b":72,"x":-3.69,"y":11.32,"z":11.63},{"b":72,"x":-1.84,"y":13.15,"z":13.46},{"b":72,"x":0,"y":13.61,"z":13.92},{"b":72,"x":1.84,"y":13.15,"z":13.46},{"b":72,"x":3.69,"y":11.32,"z":11.63},
{"b":73,"x":-3.34,"y":11.48,"z":11.67},{"b":73,"x":-1.67,"y":13.06,"z":13.25},{"b":73,"x":0,"y":13.45,"z":13.64},{"b":73,"x":1.67,"y":13.06,"z":13.25},{"b":73,"x":3.34,"y":11.48,"z":11.67},
{"b":74,"x":-3.04,"y":11.74,"z":11.88},{"b":74,"x":-1.52,"y":13.02,"z":13.16},{"b":74,"x":0,"y":13.34,"z":13.48},{"b":74,"x":1.52,"y":13.02,"z":13.16},{"b":74,"x":3.04,"y":11.74,"z":11.88},
{"b":75,"x":-3.02,"y":11.69,"z":11.86},{"b":75,"x":-1.51,"y":12.9,"z":13.07},{"b":75,"x":0,"y":13.2,"z":13.37},{"b":75,"x":1.51,"y":12.9,"z":13.07},{"b":75,"x":3.02,"y":11.69,"z":11.86},
{"b":76,"x":-3,"y":11.6,"z":11.81},{"b":76,"x":-1.5,"y":12.74,"z":12.95},{"b":76,"x":0,"y":13.02,"z":13.23},{"b":76,"x":1.5,"y":12.74,"z":12.95},{"b":76,"x":3,"y":11.6,"z":11.81},
{"b":77,"x":-2.96,"y":11.51,"z":11.72},{"b":77,"x":-1.48,"y":12.57,"z":12.78},{"b":77,"x":0,"y":12.84,"z":13.05},{"b":77,"x":1.48,"y":12.57,"z":12.78},{"b":77,"x":2.96,"y":11.51,"z":11.72},
{"b":78,"x":-2.94,"y":11.32,"z":11.61},{"b":78,"x":-1.47,"y":12.33,"z":12.62},{"b":78,"x":0,"y":12.58,"z":12.87},{"b":78,"x":1.47,"y":12.33,"z":12.62},{"b":78,"x":2.94,"y":11.32,"z":11.61},
{"b":79,"x":-2.47,"y":11.48,"z":11.63},{"b":79,"x":-1.24,"y":12.36,"z":12.51},{"b":79,"x":0,"y":12.58,"z":12.73},{"b":79,"x":1.24,"y":12.36,"z":12.51},{"b":79,"x":2.47,"y":11.48,"z":11.63},
{"b":80,"x":-2.41,"y":11.39,"z":11.58},{"b":80,"x":-1.21,"y":12.21,"z":12.4},{"b":80,"x":0,"y":12.42,"z":12.61},{"b":80,"x":1.21,"y":12.21,"z":12.4},{"b":80,"x":2.41,"y":11.39,"z":11.58},
{"b":81,"x":-2.35,"y":11.3,"z":11.51},{"b":81,"x":-1.18,"y":12.05,"z":12.26},{"b":81,"x":0,"y":12.24,"z":12.45},{"b":81,"x":1.18,"y":12.05,"z":12.26},{"b":81,"x":2.35,"y":11.3,"z":11.51},
{"b":82,"x":-2.27,"y":11.16,"z":11.42},{"b":82,"x":-1.14,"y":11.84,"z":12.1},{"b":82,"x":0,"y":12.01,"z":12.27},{"b":82,"x":1.14,"y":11.84,"z":12.1},{"b":82,"x":2.27,"y":11.16,"z":11.42},
{"b":83,"x":-2.17,"y":11.1,"z":11.31},{"b":83,"x":-1.08,"y":11.68,"z":11.89},{"b":83,"x":0,"y":11.83,"z":12.04},{"b":83,"x":1.08,"y":11.68,"z":11.89},{"b":83,"x":2.17,"y":11.1,"z":11.31},
{"b":84,"x":-2.09,"y":11.03,"z":11.22},{"b":84,"x":-1.04,"y":11.54,"z":11.73},{"b":84,"x":0,"y":11.67,"z":11.86},{"b":84,"x":1.04,"y":11.54,"z":11.73},{"b":84,"x":2.09,"y":11.03,"z":11.22},
{"b":85,"x":-2.01,"y":10.94,"z":11.15},{"b":85,"x":-1,"y":11.38,"z":11.59},{"b":85,"x":0,"y":11.49,"z":11.7},{"b":85,"x":1,"y":11.38,"z":11.59},{"b":85,"x":2.01,"y":10.94,"z":11.15},
{"b":86,"x":-1.93,"y":10.87,"z":11.06},{"b":86,"x":-0.96,"y":11.24,"z":11.43},{"b":86,"x":0,"y":11.33,"z":11.52},{"b":86,"x":0.96,"y":11.24,"z":11.43},{"b":86,"x":1.93,"y":10.87,"z":11.06},
{"b":87,"x":-1.84,"y":10.78,"z":10.97},{"b":87,"x":-0.92,"y":11.09,"z":11.28},{"b":87,"x":0,"y":11.17,"z":11.36},{"b":87,"x":0.92,"y":11.09,"z":11.28},{"b":87,"x":1.84,"y":10.78,"z":10.97}
]},"mark":{"type":"area","interpolate":"monotone","orient":"vertical"},"encoding":{"y2":{"field":"z"},"color":{"field":"b","type":"ordinal","legend":null}}},
{"data":{"values":[{"x":9.36,"y":19.63},{"x":5.88,"y":17.91}]},"mark":{"type":"line","stroke":"#999999","strokeWidth":5,"strokeDash":[4,3]},"encoding":{}},
{"data":{"values":[{"g":"p1","x":8.31,"y":22.83},{"g":"p1","x":0.57,"y":20.86},{"g":"p3","x":-9.55,"y":24.68},{"g":"p3","x":-0.45,"y":23.4}]},"mark":{"type":"line","stroke":"#d4d4d4","strokeWidth":5,"strokeDash":[4,3]},"encoding":{"detail":{"field":"g"}}},
{"data":{"values":[{"x":5.88,"y":17.91}]},"mark":{"type":"point","shape":"triangle-up","filled":true,"fill":"#888888","stroke":null,"size":700,"angle":66,"opacity":1}},
{"data":{"values":[{"x":0.57,"y":20.86}]},"mark":{"type":"point","shape":"triangle-up","filled":true,"fill":"#c4c4c4","stroke":null,"size":700,"angle":77,"opacity":1}},
{"data":{"values":[{"x":-0.45,"y":23.4}]},"mark":{"type":"point","shape":"triangle-up","filled":true,"fill":"#c4c4c4","stroke":null,"size":700,"angle":277,"opacity":1}},
{"data":{"values":[{"x":5.45,"y":17.75},{"x":0.18,"y":20.63},{"x":-0.04,"y":23.42}]},"mark":{"type":"point","shape":"circle","filled":false,"stroke":"#f2e600","strokeWidth":2.5,"size":130,"opacity":1}},
{"data":{"values":[{"x":13.72,"x2":9.26,"y":17.41,"y2":20.91},{"x":13.09,"x2":8.31,"y":21.57,"y2":25.16},{"x":-9.53,"x2":-14.33,"y":23.1,"y2":26.7}]},"mark":{"type":"rect","fill":"white","stroke":"black","strokeWidth":2.5},"encoding":{"x2":{"field":"x2"},"y2":{"field":"y2"}}},
{"data":{"values":[{"x":13.4,"y":18.3,"t":"Point #2"},{"x":13.4,"y":19.29,"t":"x"},{"x":12.53,"y":19.29,"t":"=5.58"},{"x":13.4,"y":20.7,"t":"L=17.51"},{"x":12.73,"y":22.51,"t":"Point #1"},{"x":12.73,"y":23.42,"t":"x"},{"x":11.86,"y":23.42,"t":"=0"},{"x":12.73,"y":24.87,"t":"L=21.28"},{"x":-9.87,"y":24.04,"t":"Point #3"},{"x":-9.87,"y":24.96,"t":"x"},{"x":-10.72,"y":24.96,"t":"=0"},{"x":-9.87,"y":26.42,"t":"L=23.54"}]},"mark":{"type":"text","fontSize":42,"align":"left","baseline":"alphabetic","color":"black"},"encoding":{"text":{"field":"t"}}},
{"data":{"values":[{"x":12.95,"y":19.74,"t":"0"},{"x":12.28,"y":23.93,"t":"0"},{"x":-10.32,"y":25.48,"t":"0"}]},"mark":{"type":"text","fontSize":30,"align":"left","baseline":"alphabetic","color":"black"},"encoding":{"text":{"field":"t"}}},
{"data":{"values":[{"x":0,"y":9.43,"t":"Accelerometer #4"}]},"mark":{"type":"text","fontSize":62,"fontWeight":"bold","align":"center","baseline":"alphabetic","color":"black"},"encoding":{"text":{"field":"t"}}},
{"data":{"values":[{"x":-0.36,"y":38.45,"t":"x"}]},"mark":{"type":"text","fontSize":62,"align":"center","baseline":"alphabetic","color":"#262626"},"encoding":{"text":{"field":"t"}}},
{"data":{"values":[{"x":-0.99,"y":39.16,"t":"0"}]},"mark":{"type":"text","fontSize":46,"align":"center","baseline":"alphabetic","color":"#262626"},"encoding":{"text":{"field":"t"}}},
{"data":{"values":[{"x":-20.09,"y":25.8,"t":"f"}]},"mark":{"type":"text","fontSize":62,"angle":270,"align":"left","baseline":"alphabetic","color":"#262626"},"encoding":{"text":{"field":"t"}}},
{"data":{"values":[{"x":-20.51,"y":25.35,"t":"approximate"}]},"mark":{"type":"text","fontSize":48,"angle":270,"align":"left","baseline":"alphabetic","color":"#262626"},"encoding":{"text":{"field":"t"}}},
{"data":{"values":[{"x":0.51,"y":41.47,"t":"("},{"x":-0.75,"y":41.47,"t":")"}]},"mark":{"type":"text","font":"Liberation Serif","fontSize":75,"align":"center","baseline":"alphabetic","color":"black"},"encoding":{"text":{"field":"t"}}},
{"data":{"values":[{"x":-0.12,"y":41.47,"t":"a"}]},"mark":{"type":"text","font":"Liberation Serif","fontWeight":"bold","fontSize":75,"align":"center","baseline":"alphabetic","color":"black"},"encoding":{"text":{"field":"t"}}}
]},
{"width":368,"height":1113,"data":{"values":[]},"mark":{"type":"rule","opacity":0},"encoding":{}},
{"width":1293,"height":1113,"encoding":{"x":{"field":"x","type":"quantitative","scale":{"domain":[0,20],"nice":false,"zero":false},"axis":{"title":null,"orient":"bottom","offset":-99,"values":[0,5,10,15,20],"labelFontSize":52,"labelColor":"#262626","tickSize":-12,"tickColor":"#262626","tickWidth":2,"domainColor":"#262626","domainWidth":2,"labelPadding":32,"labelFlush":false,"grid":false,"zindex":1}},"y":{"field":"y","type":"quantitative","scale":{"domain":[0,8.05],"range":[1014,0],"nice":false,"zero":false},"axis":{"title":null,"orient":"left","values":[0,1,2,3,4,5,6,7,8],"labelFontSize":52,"labelColor":"#262626","tickSize":-12,"tickColor":"#262626","tickWidth":2,"domainColor":"#262626","domainWidth":2,"labelPadding":33,"grid":false,"zindex":1}}},"layer":[
{"data":{"values":[{"x":0,"x2":20,"y":1,"y2":1},{"x":0,"x2":20,"y":2,"y2":2},{"x":0,"x2":20,"y":3,"y2":3},{"x":0,"x2":20,"y":4,"y2":4},{"x":0,"x2":20,"y":5,"y2":5},{"x":0,"x2":20,"y":6,"y2":6},{"x":0,"x2":20,"y":7,"y2":7},{"x":0,"x2":20,"y":8,"y2":8}]},"mark":{"type":"rule","stroke":"#e2e2e2","strokeWidth":3},"encoding":{"x2":{"field":"x2"},"y2":{"field":"y2"}}},
{"data":{"values":[{"x":5,"x2":5,"y":0,"y2":8.05},{"x":10,"x2":10,"y":0,"y2":8.05},{"x":15,"x2":15,"y":0,"y2":8.05}]},"mark":{"type":"rule","stroke":"#e4e4e4","strokeWidth":2},"encoding":{"x2":{"field":"x2"},"y2":{"field":"y2"}}},
{"data":{"values":[{"x":0,"x2":20,"y":8.05,"y2":8.05},{"x":20,"x2":20,"y":0,"y2":8.05},{"x":5,"x2":5,"y":8.05,"y2":7.95},{"x":10,"x2":10,"y":8.05,"y2":7.95},{"x":15,"x2":15,"y":8.05,"y2":7.95},{"x":20,"x2":19.8,"y":1,"y2":1},{"x":20,"x2":19.8,"y":2,"y2":2},{"x":20,"x2":19.8,"y":3,"y2":3},{"x":20,"x2":19.8,"y":4,"y2":4},{"x":20,"x2":19.8,"y":5,"y2":5},{"x":20,"x2":19.8,"y":6,"y2":6},{"x":20,"x2":19.8,"y":7,"y2":7},{"x":20,"x2":19.8,"y":8,"y2":8}]},"mark":{"type":"rule","stroke":"#262626","strokeWidth":2.5},"encoding":{"x2":{"field":"x2"},"y2":{"field":"y2"}}},
{"data":{"values":[{"x":0,"y":0.07},{"x":0.7,"y":0.32},{"x":1.36,"y":0.09},{"x":2.05,"y":0.12},{"x":2.73,"y":4.68},{"x":3.41,"y":0.6},{"x":4.1,"y":4.65},{"x":4.79,"y":6.52},{"x":5.49,"y":0.13},{"x":6.18,"y":1},{"x":6.87,"y":6.7},{"x":7.52,"y":6.42},{"x":8.25,"y":0.28},{"x":8.91,"y":0.02},{"x":9.6,"y":0.03},{"x":10.29,"y":0.06},{"x":10.97,"y":0.09},{"x":11.66,"y":0.02},{"x":12.34,"y":0},{"x":13.03,"y":0},{"x":13.71,"y":0},{"x":14.4,"y":0.02},{"x":15.08,"y":0.02},{"x":15.77,"y":0.02},{"x":16.46,"y":0},{"x":17.14,"y":0.005},{"x":17.83,"y":0},{"x":18.5,"y":0},{"x":19.2,"y":0},{"x":20,"y":0}]},"mark":{"type":"line","stroke":"#0072bd","strokeWidth":4},"encoding":{}},
{"data":{"values":[{"x":7.52,"x2":7.52,"y":8.05,"y2":0}]},"mark":{"type":"rule","stroke":"black","strokeWidth":8,"strokeDash":[32,34]},"encoding":{"x2":{"field":"x2"},"y2":{"field":"y2"}}},
{"data":{"values":[{"x":9.03,"x2":7.56,"y":6.27,"y2":7.09}]},"mark":{"type":"rule","stroke":"black","strokeWidth":1.5},"encoding":{"x2":{"field":"x2"},"y2":{"field":"y2"}}},
{"data":{"values":[{"x":7.7,"y":7.0}]},"mark":{"type":"point","shape":"triangle-up","filled":true,"fill":"black","stroke":null,"size":500,"angle":317,"opacity":1}},
{"data":{"values":[{"x":9.25,"y":5.94,"t":"Fundamental Bridge"},{"x":9.62,"y":5.49,"t":"Frequency (7.54Hz)"}]},"mark":{"type":"text","fontSize":56,"align":"left","baseline":"alphabetic","color":"black"},"encoding":{"text":{"field":"t"}}},
{"data":{"values":[{"x":9.98,"y":-0.99,"t":"Frequency (Hz)"}]},"mark":{"type":"text","fontSize":62,"align":"center","baseline":"alphabetic","color":"#262626"},"encoding":{"text":{"field":"t"}}},
{"data":{"values":[{"x":-1.11,"y":4.02,"t":"PSD (g²/Hz)"}]},"mark":{"type":"text","fontSize":62,"angle":270,"align":"center","baseline":"alphabetic","color":"#262626"},"encoding":{"text":{"field":"t"}}},
{"data":{"values":[{"x":0.12,"y":8.15,"t":"×10"}]},"mark":{"type":"text","fontSize":52,"align":"left","baseline":"alphabetic","color":"#262626"},"encoding":{"text":{"field":"t"}}},
{"data":{"values":[{"x":1.66,"y":8.36,"t":"-3"}]},"mark":{"type":"text","fontSize":38,"align":"left","baseline":"alphabetic","color":"#262626"},"encoding":{"text":{"field":"t"}}},
{"data":{"values":[{"x":8.58,"y":-2.95,"t":"("},{"x":9.61,"y":-2.95,"t":")"}]},"mark":{"type":"text","font":"Liberation Serif","fontSize":75,"align":"center","baseline":"alphabetic","color":"black"},"encoding":{"text":{"field":"t"}}},
{"data":{"values":[{"x":9.1,"y":-2.95,"t":"b"}]},"mark":{"type":"text","font":"Liberation Serif","fontWeight":"bold","fontSize":75,"align":"center","baseline":"alphabetic","color":"black"},"encoding":{"text":{"field":"t"}}}
]}
]}
